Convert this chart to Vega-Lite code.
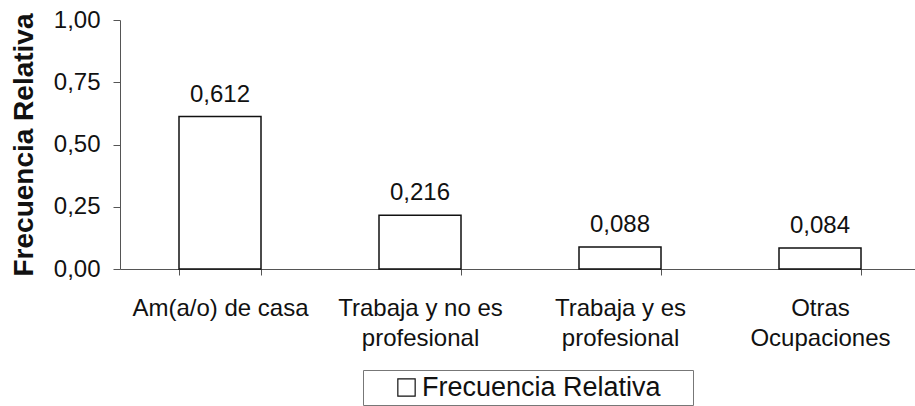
{
  "$schema": "https://vega.github.io/schema/vega-lite/v6.json",
  "width": 800,
  "height": 249,
  "autosize": {"type": "none"},
  "padding": {"left": 120, "top": 20, "right": 0, "bottom": 137},
  "background": "white",
  "config": {
    "locale": {"number": {"decimal": ",", "thousands": ".", "grouping": [3], "currency": ["", " €"]}},
    "view": {"stroke": null},
    "font": "Liberation Sans"
  },
  "data": {
    "values": [
      {"ocupacion": "Am(a/o) de casa", "frecuencia": 0.612, "serie": "Frecuencia Relativa"},
      {"ocupacion": "Trabaja y no es profesional", "frecuencia": 0.216, "serie": "Frecuencia Relativa"},
      {"ocupacion": "Trabaja y es profesional", "frecuencia": 0.088, "serie": "Frecuencia Relativa"},
      {"ocupacion": "Otras Ocupaciones", "frecuencia": 0.084, "serie": "Frecuencia Relativa"}
    ]
  },
  "encoding": {
    "x": {
      "field": "ocupacion",
      "type": "nominal",
      "sort": null,
      "scale": {"paddingInner": 0.59, "paddingOuter": 0.295},
      "axis": {
        "title": null,
        "labelAngle": 0,
        "tickBand": "extent",
        "tickSize": 6,
        "tickColor": "#555",
        "domainColor": "#555",
        "labelFont": "Liberation Sans",
        "labelFontSize": 24,
        "labelColor": "#111",
        "labelPadding": 21,
        "labelLineHeight": 30,
        "labelBaseline": "top",
        "labelLimit": 300,
        "labelExpr": "datum.value == 'Trabaja y no es profesional' ? ['Trabaja y no es', 'profesional'] : datum.value == 'Trabaja y es profesional' ? ['Trabaja y es', 'profesional'] : datum.value == 'Otras Ocupaciones' ? ['Otras', 'Ocupaciones'] : datum.value"
      }
    },
    "y": {
      "field": "frecuencia",
      "type": "quantitative",
      "scale": {"domain": [0, 1], "nice": false},
      "axis": {
        "title": "Frecuencia Relativa",
        "titleFont": "Liberation Sans",
        "titleFontSize": 28,
        "titleFontWeight": "bold",
        "titleColor": "#111",
        "titleX": -88,
        "titleBaseline": "alphabetic",
        "values": [0, 0.25, 0.5, 0.75, 1],
        "format": ".2f",
        "grid": false,
        "tickSize": 7,
        "tickColor": "#555",
        "domainColor": "#555",
        "labelFont": "Liberation Sans",
        "labelFontSize": 24,
        "labelColor": "#111",
        "labelPadding": 13
      }
    }
  },
  "layer": [
    {
      "mark": {"type": "bar", "stroke": "#111", "strokeWidth": 1.5},
      "encoding": {
        "fill": {
          "field": "serie",
          "type": "nominal",
          "scale": {"range": ["white"]},
          "legend": {
            "title": "\u00a0",
            "titleOrient": "right",
            "titleFontSize": 10,
            "titlePadding": 28,
            "orient": "none",
            "legendX": 243,
            "legendY": 350,
            "strokeColor": "#777",
            "padding": 4,
            "symbolOffset": 26,
            "symbolType": "square",
            "symbolSize": 300,
            "symbolStrokeColor": "#111",
            "symbolStrokeWidth": 1.2,
            "labelFont": "Liberation Sans",
            "labelFontSize": 27,
            "labelColor": "#111",
            "labelOffset": 2,
            "labelLimit": 400
          }
        }
      }
    },
    {
      "mark": {"type": "text", "baseline": "middle", "dy": -22, "font": "Liberation Sans", "fontSize": 24, "color": "#111"},
      "encoding": {
        "text": {"field": "frecuencia", "type": "quantitative", "format": ".3f"}
      }
    }
  ]
}
